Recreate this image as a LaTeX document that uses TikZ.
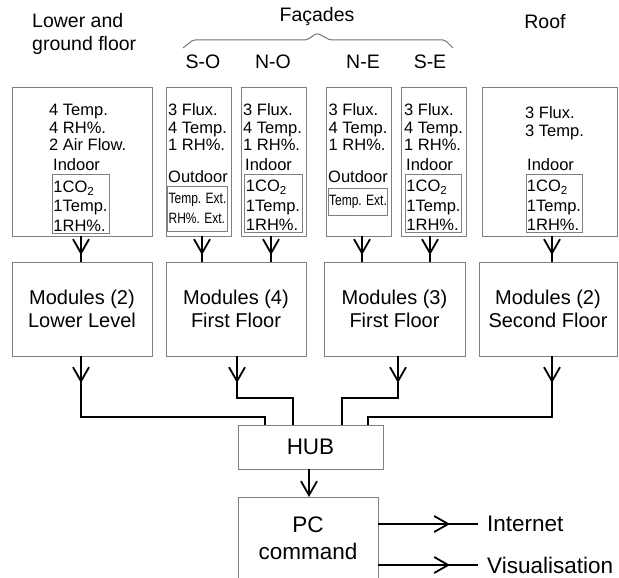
\documentclass[tikz,border=0pt]{standalone}
\usepackage{fontspec}
\setmainfont{Liberation Sans}
\newfontfamily\narrowfont[FakeStretch=0.8]{Liberation Sans}
\usetikzlibrary{arrows.meta,decorations.markings,calc}
\newcommand{\topstrut}{\rule{0pt}{17pt}}
\begin{document}
\begin{tikzpicture}[x=1pt,y=-1pt,
  >={Straight Barb[length=14pt,width=16pt]},
  box/.style={draw=black!50, line width=1pt, inner sep=0pt, outer sep=0pt, align=center},
  ibox/.style={draw=black!50, line width=0.9pt, inner sep=0.5pt, outer sep=0pt, align=left, font=\fontsize{16.5}{19.5}\selectfont},
  nbox/.style={draw=black!50, line width=0.9pt, inner sep=1pt, outer sep=0pt, align=left, font=\narrowfont\fontsize{15}{20}\selectfont},
  conn/.style={line width=1.8pt, black},
  midarr/.style={postaction={decorate}, decoration={markings, mark=at position #1 with {\arrow{>}}}},
  txt/.style={anchor=west, align=left, inner sep=0pt, font=\fontsize{16.5}{17.5}\selectfont},
  modfont/.style={font=\fontsize{20}{23}\selectfont},
  head/.style={inner sep=0pt, font=\fontsize{19.5}{23}\selectfont},
  bigfont/.style={font=\fontsize{22.5}{27}\selectfont},
  endfont/.style={font=\fontsize{22.5}{27}\selectfont},
  brace/.style={draw=black!55, line width=1pt, rounded corners=2pt},
]
\useasboundingbox (0,0) rectangle (619,578);
\clip (0,0) rectangle (619,578);

% headings
\node[head, anchor=west, align=left] (hlow) at (32,33.5) {Lower and\\ground floor};
\node[head] (hfac) at (317,17) {Façades};
\node[head] (hroof) at (545,22) {Roof};
\node[head] (hso) at (203,62) {S-O};
\node[head] (hno) at (273,62) {N-O};
\node[head] (hne) at (363,62) {N-E};
\node[head] (hse) at (430,62) {S-E};
\draw[brace] (183,48) -- (193,40) -- (307,40) -- (317,33) -- (330,40) -- (445,40) -- (453,48);

% top sensor boxes
\node[box, minimum width=140pt, minimum height=148pt] (b1) at (82,162) {};
\node[box, minimum width=65pt, minimum height=148pt] (b2) at (198.5,162) {};
\node[box, minimum width=65pt, minimum height=148pt] (b3) at (273.5,162) {};
\node[box, minimum width=65pt, minimum height=148pt] (b4) at (358.5,162) {};
\node[box, minimum width=65pt, minimum height=148pt] (b5) at (433.5,162) {};
\node[box, minimum width=135pt, minimum height=148pt] (b6) at (549.5,162) {};

\node[txt] (t1) at (49,127.5) {4 Temp.\\4 RH\%.\\2 Air Flow.};
\node[txt] (t2) at (168,127.5) {3 Flux.\\4 Temp.\\1 RH\%.};
\node[txt] (t3) at (243,127.5) {3 Flux.\\4 Temp.\\1 RH\%.};
\node[txt] (t4) at (328.5,127.5) {3 Flux.\\4 Temp.\\1 RH\%.};
\node[txt] (t5) at (404,127.5) {3 Flux.\\4 Temp.\\1 RH\%.};
\node[txt, font=\fontsize{16.5}{18.5}\selectfont] (t6) at (525,123) {3 Flux.\\3 Temp.};

\node[txt] (l1) at (53,165) {Indoor};
\node[txt] (l2) at (168,177) {Outdoor};
\node[txt] (l3) at (245,165) {Indoor};
\node[txt] (l4) at (328,177) {Outdoor};
\node[txt] (l5) at (406,165) {Indoor};
\node[txt] (l6) at (527,165) {Indoor};

\node[ibox, minimum width=57pt, minimum height=59pt] (i1) at (80.5,203.5) {\topstrut1CO\textsubscript{2}\\1Temp.\\1RH\%.};
\node[nbox, minimum width=57pt, minimum height=45pt] (i2) at (197.5,208.5) {Temp. Ext.\\RH\%. Ext.};
\node[ibox, minimum width=58pt, minimum height=58pt] (i3) at (273,203) {\topstrut1CO\textsubscript{2}\\1Temp.\\1RH\%.};
\node[nbox, minimum width=58pt, minimum height=27pt] (i4) at (358,201.5) {Temp. Ext.};
\node[ibox, minimum width=54pt, minimum height=58pt] (i5) at (433.5,203) {\topstrut1CO\textsubscript{2}\\1Temp.\\1RH\%.};
\node[ibox, minimum width=56pt, minimum height=58pt] (i6) at (554,203) {\topstrut1CO\textsubscript{2}\\1Temp.\\1RH\%.};

% module boxes
\node[box, modfont, minimum width=140pt, minimum height=94pt] (m1) at (82,309) {Modules (2)\\Lower Level};
\node[box, modfont, minimum width=140pt, minimum height=94pt] (m2) at (236,309) {Modules (4)\\First Floor};
\node[box, modfont, minimum width=141pt, minimum height=94pt] (m3) at (394.5,309) {Modules (3)\\First Floor};
\node[box, modfont, minimum width=138pt, minimum height=94pt] (m4) at (548,309) {Modules (2)\\Second Floor};

% hub and pc
\node[box, bigfont, minimum width=145pt, minimum height=44pt] (hub) at (310.5,447) {HUB};
\node[box, bigfont, minimum width=140pt, minimum height=83pt] (pc) at (308,538.5) {PC\\command};

\coordinate (h1) at (265,425);
\coordinate (h2) at (293,425);
\coordinate (h3) at (342,425);
\coordinate (h4) at (368,425);
\coordinate (inet) at (478,524);
\coordinate (vis) at (478,565);

% top arrows
\draw[conn, midarr=19pt] ([xshift=-1pt]b1.south) -- ([xshift=-1pt]b1.south |- m1.north);
\draw[conn, midarr=19pt] ([xshift=3.5pt]b2.south) -- ([xshift=3.5pt]b2.south |- m2.north);
\draw[conn, midarr=19pt] ([xshift=-2.5pt]b3.south) -- ([xshift=-2.5pt]b3.south |- m2.north);
\draw[conn, midarr=19pt] ([xshift=3.5pt]b4.south) -- ([xshift=3.5pt]b4.south |- m3.north);
\draw[conn, midarr=19pt] ([xshift=-3.5pt]b5.south) -- ([xshift=-3.5pt]b5.south |- m3.north);
\draw[conn, midarr=19pt] ([xshift=2.5pt]b6.south) -- ([xshift=2.5pt]b6.south |- m4.north);

% module to hub
\draw[conn, midarr=27pt] ([xshift=-1pt]m1.south) -- ++(0,61) -| (h1);
\draw[conn, midarr=27pt] ([xshift=1pt]m2.south) -- ++(0,42) -| (h2);
\draw[conn, midarr=27pt] ([xshift=3.5pt]m3.south) -- ++(0,42) -| (h3);
\draw[conn, midarr=27pt] ([xshift=4pt]m4.south) -- ++(0,61) -| (h4);

% hub to pc
\draw[conn, ->] ([xshift=-1.5pt]hub.south) -- ([xshift=-1.5pt]hub.south |- pc.north);

% outputs
\draw[conn, midarr=72pt] (pc.east |- inet) -- (inet);
\draw[conn, midarr=72pt] (pc.east |- vis) -- (vis);
\node[inner sep=0pt, endfont, anchor=west] (tinet) at (487,524) {Internet};
\node[inner sep=0pt, endfont, anchor=west] (tvis) at (487,565) {Visualisation};
\end{tikzpicture}
\end{document}
